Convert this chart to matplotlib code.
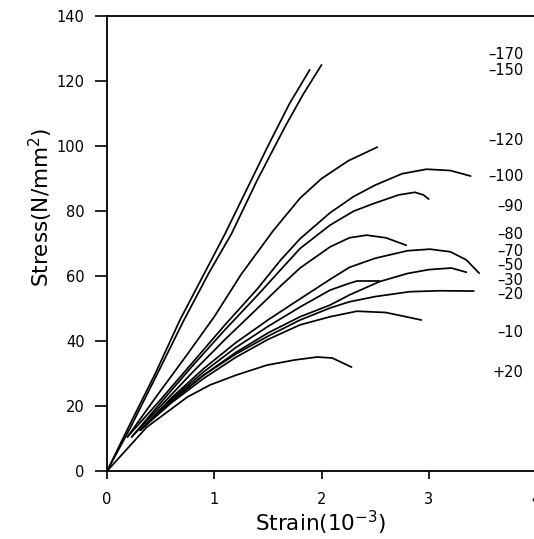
import matplotlib
matplotlib.use("Agg")
import matplotlib.pyplot as plt

# temperature labels (deg C), one per curve
temps = ["\u2013170", "\u2013150", "\u2013120", "\u2013100", "\u201390", "\u201380",
         "\u201370", "\u201350", "\u201330", "\u201320", "\u201310", "+20"]

# strain (10^-3) and stress (N/mm2)
strain = [
    [0, 0.2, 0.45, 0.68, 0.91, 1.1, 1.3, 1.5, 1.7, 1.89],
    [0, 0.22, 0.47, 0.71, 0.95, 1.16, 1.4, 1.66, 1.83, 2.0],
    [0.19, 0.45, 0.75, 1.0, 1.25, 1.55, 1.8, 2.0, 2.25, 2.52],
    [0.19, 0.5, 0.8, 1.1, 1.4, 1.62, 1.8, 2.08, 2.3, 2.5, 2.75, 2.98, 3.2, 3.39],
    [0.23, 0.5, 0.8, 1.1, 1.4, 1.62, 1.8, 2.08, 2.3, 2.5, 2.72, 2.87, 2.95, 3.0],
    [0.23, 0.5, 0.8, 1.1, 1.4, 1.62, 1.8, 2.08, 2.26, 2.42, 2.6, 2.79],
    [0.31, 0.6, 0.9, 1.2, 1.5, 1.8, 2.08, 2.26, 2.5, 2.8, 3.01, 3.2, 3.35, 3.47],
    [0.31, 0.6, 0.9, 1.2, 1.5, 1.8, 2.08, 2.26, 2.54, 2.8, 3.0, 3.21, 3.35],
    [0.31, 0.6, 0.9, 1.2, 1.5, 1.8, 2.08, 2.26, 2.33, 2.54],
    [0.31, 0.6, 0.9, 1.2, 1.5, 1.8, 2.08, 2.26, 2.5, 2.82, 3.1, 3.42],
    [0.31, 0.6, 0.9, 1.2, 1.5, 1.8, 2.08, 2.33, 2.6, 2.93],
    [0, 0.37, 0.75, 0.96, 1.2, 1.49, 1.75, 1.96, 2.1, 2.28],
]
stress = [
    [0, 13.5, 30, 46.5, 61, 73, 86.5, 100, 113, 123.5],
    [0, 13.5, 30, 46, 61, 73, 89.5, 106, 116, 125],
    [10.5, 22.5, 36, 47.5, 60.5, 74, 84, 90, 95.5, 99.7],
    [10.5, 22, 33.5, 45, 56, 65, 71.5, 79.5, 84.5, 88, 91.5, 92.9, 92.5, 90.8],
    [10.5, 21, 32.5, 43.5, 54, 62, 68.5, 75.7, 80, 82.5, 85, 85.8, 85, 83.7],
    [10.5, 20, 30.5, 40.5, 50, 57, 62.5, 69, 71.8, 72.6, 71.8, 69.5],
    [12.6, 22.5, 31.5, 39.5, 46.5, 53, 59, 62.7, 65.5, 67.8, 68.3, 67.5, 65, 60.9],
    [12.6, 21.5, 29.5, 36.5, 42.5, 47.5, 51.1, 54.2, 58.3, 60.8, 62, 62.5, 61.2],
    [12.6, 22, 30.5, 38, 44.5, 50.5, 55.7, 57.8, 58.5, 58.5],
    [12.6, 21.5, 29.5, 36, 41.5, 46.5, 50.2, 52.1, 53.7, 55.2, 55.5, 55.4],
    [12.6, 21, 28.5, 35, 40.5, 45, 47.5, 49.2, 48.8, 46.5],
    [0, 13.5, 22.8, 26.5, 29.5, 32.6, 34.2, 35.1, 34.8, 32],
]

# vertical placement of the temperature labels (data units)
label_y = [128.3, 123.4, 101.8, 90.8, 81.5, 72.9, 67.7, 63.4, 58.8, 54.2, 42.5, 30.4]

fig = plt.figure(figsize=(5.34, 5.39), dpi=100)
ax = fig.add_axes([0.2004, 0.126, 0.8034, 0.844])

for xs, ys in zip(strain, stress):
    ax.plot(xs, ys, color="black", linewidth=1.25, solid_capstyle="round")

for t, y in zip(temps, label_y):
    ax.text(3.88, y, t, ha="right", va="center", fontsize=10.5, color="black")

ax.set_xlim(0, 4)
ax.set_ylim(0, 140)
ax.set_xticks([0, 1, 2, 3, 4])
ax.set_yticks(range(0, 141, 20))
ax.tick_params(axis="y", direction="out", length=9, width=1.2, pad=7, labelsize=10.5)
ax.tick_params(axis="x", direction="out", length=6, width=1.2, pad=9, labelsize=10.5)
ax.spines["right"].set_visible(False)
for s in ("left", "bottom", "top"):
    ax.spines[s].set_linewidth(1.3)

ax.set_ylabel("Stress(N/mm$^2$)", fontsize=15.5)
ax.yaxis.set_label_coords(-0.122, 0.58)
ax.set_xlabel("Strain(10$^{-3}$)", fontsize=15.5)
ax.xaxis.set_label_coords(0.497, -0.082)

fig.savefig("out.png", dpi=100, facecolor="white")
